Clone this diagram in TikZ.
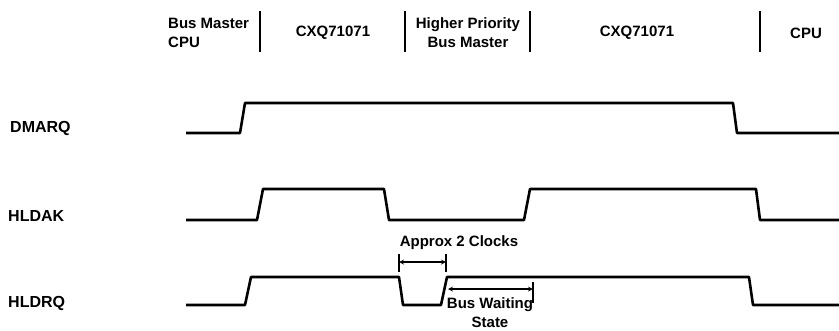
\documentclass[tikz,border=0pt]{standalone}
\usepackage{fontspec}
\setmainfont{Liberation Sans}
\usetikzlibrary{arrows}
\tikzstyle{wave} = [line width=2.6pt, line join=round]
\tikzstyle{sig} = [font=\bfseries\fontsize{16}{18}\selectfont, anchor=west, inner sep=0]
\tikzstyle{hdr} = [font=\bfseries\fontsize{15}{19}\selectfont, align=center, inner sep=0]
\tikzstyle{divider} = [line width=1.6pt]
\tikzstyle{tick} = [line width=1.2pt]
\tikzstyle{dim} = [line width=1.2pt,<->,>=stealth]

\begin{document}
\begin{tikzpicture}[x=1pt,y=-1pt]
\useasboundingbox (0,0) rectangle (839,330);

% who owns the bus
\node[hdr, align=left, anchor=west] (own1) at (168,33) {Bus Master\\CPU};
\node[hdr] (own2) at (333,33) {CXQ71071};
\node[hdr] (own3) at (468,33) {Higher Priority\\Bus Master};
\node[hdr] (own4) at (637,33) {CXQ71071};
\node[hdr] (own5) at (806,33) {CPU};
\foreach \x in {260,405,530,760}{
\draw[divider] (\x,11)--(\x,52);
}

% signal names
\node[sig] (dmarq) at (10,128) {DMARQ};
\node[sig] (hldak) at (8,216) {HLDAK};
\node[sig] (hldrq) at (8,303) {HLDRQ};

% waveforms
\draw[wave] (186,133)--(240,133)--(245,103)--(733,103)--(737,133)--(839,133);
\draw[wave] (186,220)--(257,220)--(263,189)--(384,189)--(389,220)--(524,220)--(530,189)--(756,189)--(760,220)--(839,220);
\draw[wave] (186,305)--(245,305)--(251,277)--(399,277)--(403,305)--(441,305)--(447,277)--(749,277)--(753,305)--(839,305);

% timing marks
\coordinate (ca) at (399,262);
\coordinate (cb) at (446,262);
\draw[tick] (399,254)--(399,272) (446,254)--(446,272);
\draw[dim] (ca)--(cb);
\node[hdr] (clk) at (459,243) {Approx 2 Clocks};

\coordinate (wa) at (448,289);
\coordinate (wb) at (533,289);
\draw[tick] (533,282)--(533,303);
\draw[dim] (wa)--(wb);
\node[hdr] (wait) at (490,313) {Bus Waiting\\State};

\end{tikzpicture}
\end{document}
